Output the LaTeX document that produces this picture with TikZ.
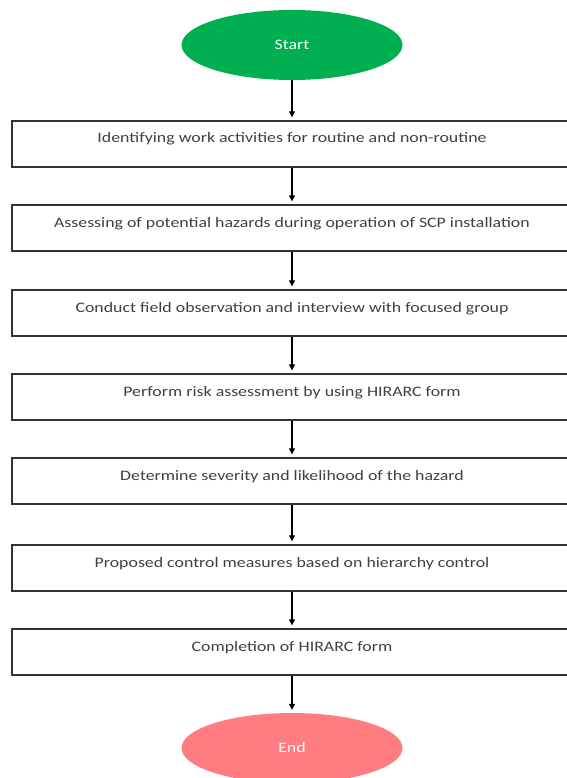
\documentclass[tikz,border=0pt]{standalone}
\usepackage{fontspec}
\setmainfont{Carlito}
\usetikzlibrary{shapes.geometric,arrows.meta}
\definecolor{startgreen}{HTML}{00B050}
\definecolor{endpink}{HTML}{FF7C80}
\definecolor{boxtext}{HTML}{404040}
\newcommand{\widetxt}[1]{\scalebox{1.23}[1]{#1}}
\tikzset{
stepbox/.style={draw=black!80,line width=1.3pt,minimum width=560pt,inner xsep=0pt,inner ysep=0pt,text height=22pt,text depth=24pt,text=boxtext},
terminal/.style={ellipse,minimum width=221pt,minimum height=70pt,inner sep=0pt,text=white},
flow/.style={-{Triangle[width=6pt,length=6pt]},line width=1.2pt,shorten >=3pt}
}
\begin{document}
\begin{tikzpicture}[x=1pt,y=-1pt,font=\fontsize{14.5}{17}\selectfont]
\useasboundingbox (0,0) rectangle (566,778);
\node[terminal,fill=startgreen] (start) at (292,45) {\widetxt{Start}};
\foreach \n/\y/\txt in {1/144/Identifying work activities for routine and non-routine,
2/228/Assessing of potential hazards during operation of SCP installation,
3/313/Conduct field observation and interview with focused group,
4/397/Perform risk assessment by using HIRARC form,
5/481/Determine severity and likelihood of the hazard,
6/568/Proposed control measures based on hierarchy control,
7/652/Completion of HIRARC form}{
\node[stepbox] (s\n) at (292,\y) {\widetxt{\txt}};
}
\node[terminal,fill=endpink] (end) at (292,748) {\widetxt{End}};
% connectors
\draw[flow] (start) -- (s1);
\foreach \a/\b in {1/2,2/3,3/4,4/5,5/6,6/7}
\draw[flow] (s\a) -- (s\b);
\draw[flow] (s7) -- (end);
\end{tikzpicture}
\end{document}
